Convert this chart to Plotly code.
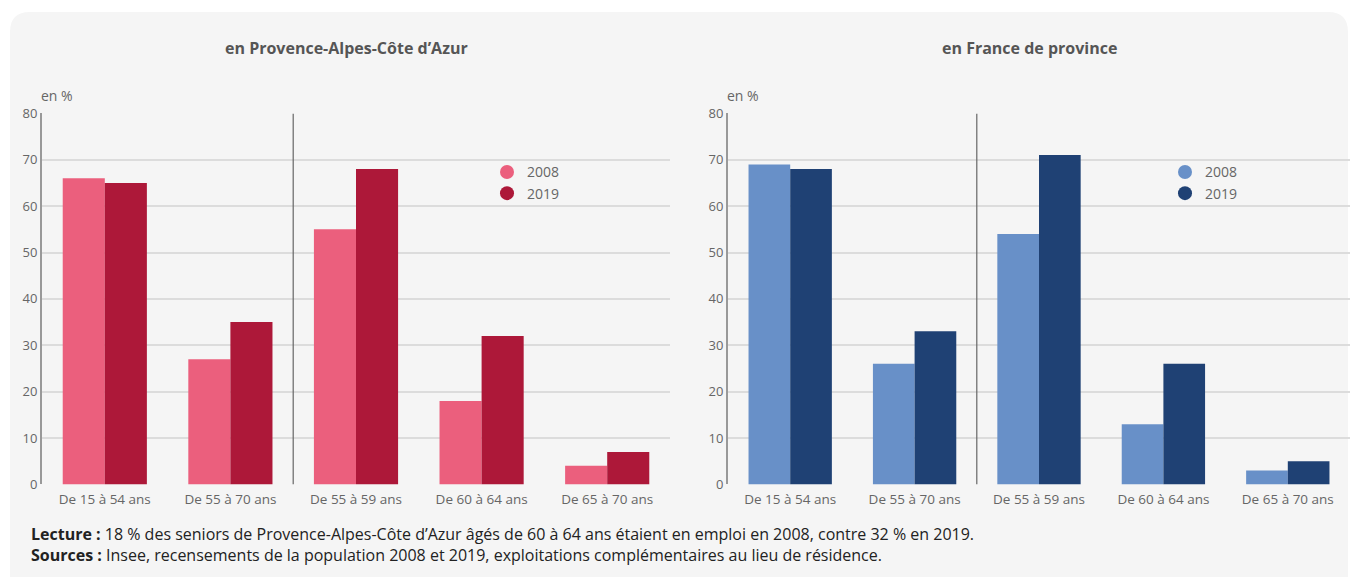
import plotly.graph_objects as go

# page offsets/scale observed for the plot div inside the captured window
OFFX, OFFY, SY = 8, 17, 0.97
W, H = 1342, 577

categories = ["De 15 à 54 ans", "De 55 à 70 ans", "De 55 à 59 ans", "De 60 à 64 ans", "De 65 à 70 ans"]
years = ["2008", "2019"]
paca_2008 = [66, 27, 55, 18, 4]
paca_2019 = [65, 35, 68, 32, 7]
prov_2008 = [69, 26, 54, 13, 3]
prov_2019 = [68, 33, 71, 26, 5]
y_ticks = [0, 10, 20, 30, 40, 50, 60, 70, 80]

paca_colors = ["#EB5F7D", "#AD1839"]
prov_colors = ["#6890C8", "#1F4174"]

FONT = "Open Sans"

def px(x):
    return min(max((x - OFFX) / W, 0), 1)

def pxu(x):
    return (x - OFFX) / W

def py(y):
    return 1 - ((y - OFFY) / SY) / H

fig = go.Figure()

for i, (vals, col) in enumerate(zip([paca_2008, paca_2019], paca_colors)):
    fig.add_trace(go.Bar(x=categories, y=vals, marker=dict(color=col, line=dict(width=0)),
                         xaxis="x", yaxis="y", showlegend=False, name=years[i]))
    fig.add_trace(go.Scatter(x=[None], y=[None], mode="markers", name=years[i],
                             marker=dict(color=col, size=14, symbol="circle"),
                             xaxis="x", yaxis="y", legend="legend"))
for i, (vals, col) in enumerate(zip([prov_2008, prov_2019], prov_colors)):
    fig.add_trace(go.Bar(x=categories, y=vals, marker=dict(color=col, line=dict(width=0)),
                         xaxis="x2", yaxis="y2", showlegend=False, name=years[i]))
    fig.add_trace(go.Scatter(x=[None], y=[None], mode="markers", name=years[i],
                             marker=dict(color=col, size=14, symbol="circle"),
                             xaxis="x2", yaxis="y2", legend="legend2"))

xa = dict(type="category", tickfont=dict(family=FONT, size=13.5, color="#666"),
          showgrid=False, zeroline=False, showline=False, ticks="", fixedrange=True,
          ticklabelstandoff=5)
ya = dict(range=[0, 80], tickvals=y_ticks, tickfont=dict(family=FONT, size=13, color="#666"),
          showgrid=True, gridcolor="#dcdcdc", gridwidth=1.5, zeroline=False,
          showline=True, linecolor="#999", linewidth=2, ticks="", ticklen=0, fixedrange=True,
          ticklabelstandoff=0)

ydom = [py(485), py(113.5)]
legfont = dict(family=FONT, size=14, color="#666")
fig.update_layout(
    width=W, height=H,
    margin=dict(l=0, r=0, t=0, b=0),
    paper_bgcolor="white", plot_bgcolor="rgba(0,0,0,0)",
    barmode="group", bargap=0.33, bargroupgap=0,
    xaxis=dict(xa, domain=[px(42), px(670)], anchor="y"),
    yaxis=dict(ya, domain=ydom, anchor="x"),
    xaxis2=dict(xa, domain=[px(728), px(1356.5)], anchor="y2"),
    yaxis2=dict(ya, domain=ydom, anchor="x2"),
    legend=dict(x=px(487), y=py(156.5), xanchor="left", yanchor="top",
                bgcolor="rgba(0,0,0,0)", font=legfont, itemwidth=30, tracegroupgap=0),
    legend2=dict(x=px(1165), y=py(156.5), xanchor="left", yanchor="top",
                 bgcolor="rgba(0,0,0,0)", font=legfont, itemwidth=30, tracegroupgap=0),
    font=dict(family=FONT),
)

# card background with rounded corners
r = 20
x0, y0, x1, y1 = 10, 12, 1348, 620
path = (f"M {pxu(x0+r)},{py(y0)} L {pxu(x1-r)},{py(y0)} Q {pxu(x1)},{py(y0)} {pxu(x1)},{py(y0+r)} "
        f"L {pxu(x1)},{py(y1)} L {pxu(x0)},{py(y1)} L {pxu(x0)},{py(y0+r)} Q {pxu(x0)},{py(y0)} {pxu(x0+r)},{py(y0)} Z")
fig.add_shape(type="path", path=path, xref="paper", yref="paper",
              fillcolor="#f5f5f5", line=dict(width=0), layer="below")

# separators between total and detailed age groups
for xr, yr in [("x", "y"), ("x2", "y2")]:
    fig.add_shape(type="line", xref=xr, yref=yr, x0=1.5, x1=1.5, y0=0, y1=80,
                  line=dict(color="#666", width=1.2), layer="above")

titles = [("en Provence-Alpes-Côte d’Azur", 346), ("en France de province", 1029)]
for t, cx in titles:
    fig.add_annotation(text=f"<b>{t}</b>", x=px(cx), y=py(48), xref="paper", yref="paper",
                       xanchor="center", yanchor="middle", showarrow=False,
                       font=dict(family=FONT, size=16, color="#555"))
for cx in [39, 725]:
    fig.add_annotation(text="en %", x=px(cx), y=py(96), xref="paper", yref="paper",
                       xanchor="left", yanchor="middle", showarrow=False,
                       font=dict(family=FONT, size=14, color="#666"))

footer = [
    ("<b>Lecture :</b> 18 % des seniors de Provence-Alpes-Côte d’Azur âgés de 60 à 64 ans étaient en emploi en 2008, contre 32 % en 2019.", 535),
    ("<b>Sources :</b> Insee, recensements de la population 2008 et 2019, exploitations complémentaires au lieu de résidence.", 556),
]
for t, yy in footer:
    fig.add_annotation(text=t, x=px(29), y=py(yy), xref="paper", yref="paper",
                       xanchor="left", yanchor="middle", showarrow=False,
                       font=dict(family=FONT, size=16, color="#222"))

fig.write_html("out.html")
